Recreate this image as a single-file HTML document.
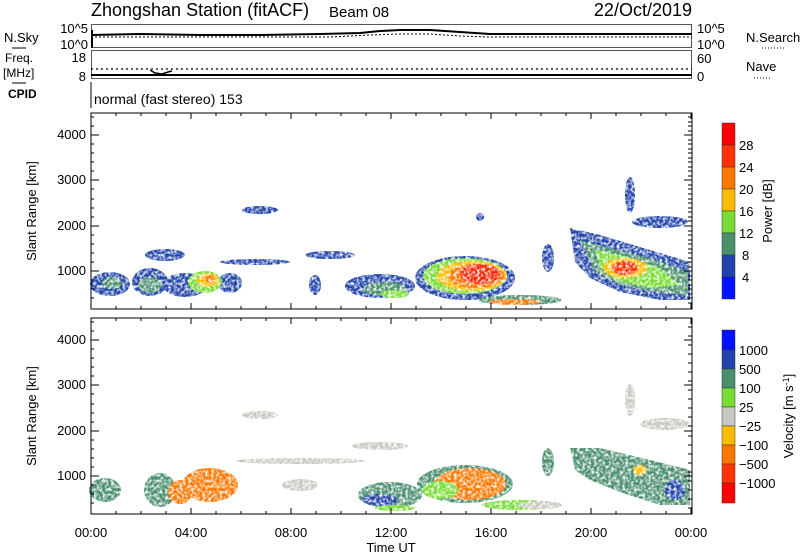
<!DOCTYPE html>
<html><head><meta charset="utf-8"><style>
html,body{margin:0;padding:0;background:#fff}
svg{display:block}
text{font-family:"Liberation Sans","DejaVu Sans",sans-serif;fill:#000}
</style></head><body>
<svg width="800" height="554" viewBox="0 0 800 554" xmlns="http://www.w3.org/2000/svg">
<defs>
<filter id="sp" x="0" y="0" width="100%" height="100%">
<feTurbulence type="fractalNoise" baseFrequency="0.35" numOctaves="2" seed="7" result="n"/>
<feColorMatrix in="n" type="matrix" values="0 0 0 0 0  0 0 0 0 0  0 0 0 0 0  0 0 0 -2.4 1.9" result="m"/>
<feComposite in="SourceGraphic" in2="m" operator="in"/>
</filter>
</defs>
<text x="91" y="16" font-size="18">Zhongshan Station (fitACF)</text>
<text x="329" y="17" font-size="15">Beam 08</text>
<text x="692" y="16" font-size="18" text-anchor="end">22/Oct/2019</text>

<rect x="91.5" y="24.5" width="600" height="23" fill="none" stroke="#555" stroke-width="1"/>
<polyline points="91,35 140,34 200,35 260,35 320,34 360,33 380,31 400,30 430,30 460,32 490,34 530,34 580,34 640,34 692,34" fill="none" stroke="#000" stroke-width="2"/>
<polyline points="91,37 200,37 330,37 370,35 400,34 430,34 460,36 490,37 692,37" fill="none" stroke="#000" stroke-width="1" stroke-dasharray="2,2"/>
<line x1="92" y1="30" x2="92" y2="48" stroke="#000" stroke-width="2"/>
<text x="88" y="33" font-size="13" text-anchor="end">10^5</text>
<text x="88" y="49" font-size="13" text-anchor="end">10^0</text>
<text x="697" y="33" font-size="13">10^5</text>
<text x="697" y="49" font-size="13">10^0</text>
<text x="4" y="42" font-size="13">N.Sky</text>
<line x1="12" y1="48" x2="26" y2="48" stroke="#000"/>
<text x="746" y="42" font-size="13">N.Search</text>
<line x1="762" y1="48" x2="786" y2="48" stroke="#000" stroke-dasharray="1,2"/>

<rect x="91.5" y="50.5" width="600" height="28" fill="none" stroke="#555" stroke-width="1"/>
<line x1="91" y1="75" x2="692" y2="75" stroke="#000" stroke-width="2"/>
<line x1="91" y1="69" x2="692" y2="69" stroke="#000" stroke-width="1.2" stroke-dasharray="2,3"/>
<polyline points="150,70 155,73 162,74 168,72 172,71" fill="none" stroke="#000" stroke-width="1.5"/>
<text x="86" y="62" font-size="13" text-anchor="end">18</text>
<text x="86" y="81" font-size="13" text-anchor="end">8</text>
<text x="697" y="63" font-size="13">60</text>
<text x="697" y="81" font-size="13">0</text>
<text x="5" y="62" font-size="12">Freq.</text>
<text x="3" y="77" font-size="12">[MHz]</text>
<line x1="12" y1="83" x2="26" y2="83" stroke="#000"/>
<text x="746" y="71" font-size="13">Nave</text>
<line x1="754" y1="78" x2="772" y2="78" stroke="#000" stroke-dasharray="1,2"/>
<text x="8" y="98" font-size="12" font-weight="bold">CPID</text>
<line x1="91" y1="82" x2="91" y2="108" stroke="#000"/>
<text x="94" y="104" font-size="14">normal (fast stereo) 153</text>

<!-- Power panel data -->
<g filter="url(#sp)">
<ellipse cx="110" cy="284" rx="20" ry="12" fill="#2244aa"/>
<ellipse cx="150" cy="282" rx="18" ry="14" fill="#2244aa"/>
<ellipse cx="185" cy="285" rx="22" ry="12" fill="#2244aa"/>
<ellipse cx="230" cy="283" rx="12" ry="10" fill="#2244aa"/>
<ellipse cx="150" cy="285" rx="12" ry="8" fill="#4a8f6e"/>
<ellipse cx="112" cy="283" rx="10" ry="6" fill="#4a8f6e"/>
<ellipse cx="205" cy="282" rx="17" ry="11" fill="#77dd33"/>
<ellipse cx="208" cy="280" rx="11" ry="7" fill="#ffbb00"/>
<ellipse cx="210" cy="279" rx="5" ry="4" fill="#ff7700"/>
<ellipse cx="165" cy="255" rx="20" ry="6" fill="#2244aa"/>
<ellipse cx="255" cy="262" rx="35" ry="3" fill="#2244aa"/>
<ellipse cx="330" cy="255" rx="25" ry="4" fill="#2244aa"/>
<ellipse cx="315" cy="285" rx="6" ry="10" fill="#2244aa"/>
<ellipse cx="380" cy="286" rx="35" ry="12" fill="#2244aa"/>
<ellipse cx="385" cy="289" rx="22" ry="7" fill="#4a8f6e"/>
<ellipse cx="395" cy="294" rx="14" ry="4" fill="#77dd33"/>
<ellipse cx="465" cy="278" rx="50" ry="22" fill="#2244aa"/>
<ellipse cx="465" cy="276" rx="42" ry="18" fill="#77dd33"/>
<ellipse cx="472" cy="276" rx="35" ry="15" fill="#ffbb00"/>
<ellipse cx="476" cy="276" rx="28" ry="12" fill="#ff7700"/>
<ellipse cx="480" cy="274" rx="20" ry="10" fill="#ff2200"/>
<ellipse cx="520" cy="300" rx="42" ry="5" fill="#4a8f6e"/>
<ellipse cx="515" cy="302" rx="26" ry="3" fill="#ff7700"/>
<polygon points="570,228 600,235 650,250 690,262 690,300 660,300 620,292 590,278 575,262" fill="#2244aa"/>
<polygon points="580,240 610,248 650,258 688,272 688,295 655,292 620,285 595,272" fill="#4a8f6e"/>
<polygon points="595,250 625,256 660,268 680,285 650,288 615,280 600,268" fill="#77dd33"/>
<ellipse cx="625" cy="268" rx="22" ry="10" fill="#ffbb00"/>
<ellipse cx="625" cy="268" rx="13" ry="7" fill="#ff3300"/>
<ellipse cx="660" cy="222" rx="28" ry="6" fill="#2244aa"/>
<ellipse cx="630" cy="195" rx="5" ry="18" fill="#2244aa"/>
<ellipse cx="548" cy="258" rx="6" ry="14" fill="#2244aa"/>
<ellipse cx="260" cy="210" rx="18" ry="4" fill="#2244aa"/>
<ellipse cx="480" cy="217" rx="4" ry="4" fill="#2244aa"/>
</g>

<!-- Velocity panel data -->
<g filter="url(#sp)">
<ellipse cx="105" cy="490" rx="16" ry="12" fill="#4a8f6e"/>
<ellipse cx="160" cy="490" rx="16" ry="17" fill="#4a8f6e"/>
<ellipse cx="210" cy="485" rx="28" ry="17" fill="#ff7700"/>
<ellipse cx="180" cy="492" rx="12" ry="12" fill="#ff7700"/>
<ellipse cx="300" cy="461" rx="65" ry="3" fill="#c8c8c0"/>
<ellipse cx="300" cy="485" rx="18" ry="6" fill="#c8c8c0"/>
<ellipse cx="390" cy="495" rx="32" ry="13" fill="#4a8f6e"/>
<ellipse cx="380" cy="500" rx="18" ry="6" fill="#2244aa"/>
<ellipse cx="395" cy="508" rx="20" ry="3" fill="#77dd33"/>
<ellipse cx="465" cy="484" rx="48" ry="19" fill="#4a8f6e"/>
<ellipse cx="470" cy="484" rx="36" ry="16" fill="#ff7700"/>
<ellipse cx="440" cy="490" rx="18" ry="9" fill="#77dd33"/>
<ellipse cx="520" cy="505" rx="38" ry="5" fill="#77dd33"/>
<ellipse cx="540" cy="505" rx="22" ry="4" fill="#c8c8c0"/>
<polygon points="570,448 600,448 650,460 690,470 690,505 660,505 620,492 590,480 575,470" fill="#4a8f6e"/>
<ellipse cx="675" cy="490" rx="10" ry="10" fill="#2244aa"/>
<ellipse cx="640" cy="470" rx="7" ry="5" fill="#ffbb00"/>
<ellipse cx="665" cy="424" rx="25" ry="6" fill="#c8c8c0"/>
<ellipse cx="630" cy="400" rx="5" ry="16" fill="#c8c8c0"/>
<ellipse cx="548" cy="462" rx="6" ry="14" fill="#4a8f6e"/>
<ellipse cx="260" cy="415" rx="18" ry="4" fill="#c8c8c0"/>
<ellipse cx="380" cy="446" rx="28" ry="4" fill="#c8c8c0"/>
</g>

<rect x="91" y="113" width="601" height="196" fill="none" stroke="#000"/>
<rect x="91" y="318" width="601" height="196" fill="none" stroke="#000"/>
<g stroke="#000" stroke-width="1">
<path d="M91,309v-6M191,309v-6M291,309v-6M391,309v-6M491,309v-6M591,309v-6M691,309v-6M91,113v6M191,113v6M291,113v6M391,113v6M491,113v6M591,113v6M691,113v6
M91,514v-6M191,514v-6M291,514v-6M391,514v-6M491,514v-6M591,514v-6M691,514v-6M91,318v6M191,318v6M291,318v6M391,318v6M491,318v6M591,318v6M691,318v6
M116,309v-3M141,309v-3M166,309v-3M216,309v-3M241,309v-3M266,309v-3M316,309v-3M341,309v-3M366,309v-3M416,309v-3M441,309v-3M466,309v-3M516,309v-3M541,309v-3M566,309v-3M616,309v-3M641,309v-3M666,309v-3
M116,514v-3M141,514v-3M166,514v-3M216,514v-3M241,514v-3M266,514v-3M316,514v-3M341,514v-3M366,514v-3M416,514v-3M441,514v-3M466,514v-3M516,514v-3M541,514v-3M566,514v-3M616,514v-3M641,514v-3M666,514v-3
M116,113v3M141,113v3M166,113v3M216,113v3M241,113v3M266,113v3M316,113v3M341,113v3M366,113v3M416,113v3M441,113v3M466,113v3M516,113v3M541,113v3M566,113v3M616,113v3M641,113v3M666,113v3
M116,318v3M141,318v3M166,318v3M216,318v3M241,318v3M266,318v3M316,318v3M341,318v3M366,318v3M416,318v3M441,318v3M466,318v3M516,318v3M541,318v3M566,318v3M616,318v3M641,318v3M666,318v3
M91,271h8M91,226h8M91,180h8M91,135h8M692,271h-8M692,226h-8M692,180h-8M692,135h-8
M91,476h8M91,431h8M91,385h8M91,340h8M692,476h-8M692,431h-8M692,385h-8M692,340h-8"/>
<path d="M91,298h3M91,289h3M91,280h3M91,262h3M91,253h3M91,244h3M91,235h3M91,217h3M91,208h3M91,199h3M91,189h3M91,171h3M91,162h3M91,153h3M91,144h3M91,126h3M91,117h3
M692,298h-4M692,289h-4M692,280h-4M692,262h-4M692,253h-4M692,244h-4M692,235h-4M692,217h-4M692,208h-4M692,199h-4M692,189h-4M692,171h-4M692,162h-4M692,153h-4M692,144h-4M692,126h-4M692,117h-4M692,303h-4M692,294h-4M692,285h-4M692,276h-4M692,267h-4M692,258h-4M692,249h-4M692,240h-4M692,231h-4M692,221h-4M692,212h-4M692,203h-4M692,194h-4M692,185h-4M692,176h-4M692,167h-4M692,158h-4M692,149h-4M692,140h-4M692,131h-4M692,122h-4
M91,503h3M91,494h3M91,485h3M91,467h3M91,458h3M91,449h3M91,440h3M91,422h3M91,413h3M91,404h3M91,394h3M91,376h3M91,367h3M91,358h3M91,349h3M91,331h3M91,322h3
M692,508h-4M692,499h-4M692,490h-4M692,481h-4M692,472h-4M692,463h-4M692,454h-4M692,445h-4M692,436h-4M692,426h-4M692,417h-4M692,408h-4M692,399h-4M692,390h-4M692,381h-4M692,372h-4M692,363h-4M692,354h-4M692,345h-4M692,336h-4M692,327h-4"/>
</g>
<g font-size="13" text-anchor="end">
<text x="86" y="275">1000</text><text x="86" y="230">2000</text><text x="86" y="184">3000</text><text x="86" y="139">4000</text>
<text x="86" y="480">1000</text><text x="86" y="435">2000</text><text x="86" y="389">3000</text><text x="86" y="344">4000</text>
</g>
<text transform="translate(36,211) rotate(-90)" font-size="13" text-anchor="middle">Slant Range [km]</text>
<text transform="translate(36,416) rotate(-90)" font-size="13" text-anchor="middle">Slant Range [km]</text>
<g font-size="13" text-anchor="middle">
<text x="91" y="537">00:00</text><text x="191" y="537">04:00</text><text x="291" y="537">08:00</text><text x="391" y="537">12:00</text><text x="491" y="537">16:00</text><text x="591" y="537">20:00</text><text x="691" y="537">00:00</text>
<text x="391" y="552">Time UT</text>
</g>

<g stroke="#333" stroke-width="0.5">
<rect x="722" y="123" width="13" height="22" fill="#ff0000"/>
<rect x="722" y="145" width="13" height="22" fill="#ff3300"/>
<rect x="722" y="167" width="13" height="22" fill="#ff7700"/>
<rect x="722" y="189" width="13" height="22" fill="#ffbb00"/>
<rect x="722" y="211" width="13" height="22" fill="#77dd33"/>
<rect x="722" y="233" width="13" height="22" fill="#4a8f6e"/>
<rect x="722" y="255" width="13" height="22" fill="#2244aa"/>
<rect x="722" y="277" width="13" height="22" fill="#0011ff"/>
</g>
<g font-size="13">
<text x="739" y="150">28</text><text x="739" y="172">24</text><text x="739" y="194">20</text><text x="739" y="216">16</text><text x="739" y="238">12</text><text x="742" y="260">8</text><text x="742" y="282">4</text>
</g>
<text transform="translate(772,211) rotate(-90)" font-size="13" text-anchor="middle">Power [dB]</text>

<g stroke="#333" stroke-width="0.5">
<rect x="722" y="330" width="13" height="20" fill="#0011ff"/>
<rect x="722" y="350" width="13" height="19" fill="#2244aa"/>
<rect x="722" y="369" width="13" height="19" fill="#4a8f6e"/>
<rect x="722" y="388" width="13" height="19" fill="#77dd33"/>
<rect x="722" y="407" width="13" height="19" fill="#c8c8c0"/>
<rect x="722" y="426" width="13" height="19" fill="#ffbb00"/>
<rect x="722" y="445" width="13" height="19" fill="#ff7700"/>
<rect x="722" y="464" width="13" height="19" fill="#ff3300"/>
<rect x="722" y="483" width="13" height="20" fill="#ff0000"/>
</g>
<g font-size="13">
<text x="739" y="355">1000</text><text x="739" y="374">500</text><text x="739" y="393">100</text><text x="739" y="412">25</text><text x="739" y="431">−25</text><text x="739" y="450">−100</text><text x="739" y="469">−500</text><text x="739" y="488">−1000</text>
</g>
<text transform="translate(793,416) rotate(-90)" font-size="13" text-anchor="middle">Velocity [m s<tspan dy="-4" font-size="9">-1</tspan><tspan dy="4">]</tspan></text>
</svg>
</body></html>
